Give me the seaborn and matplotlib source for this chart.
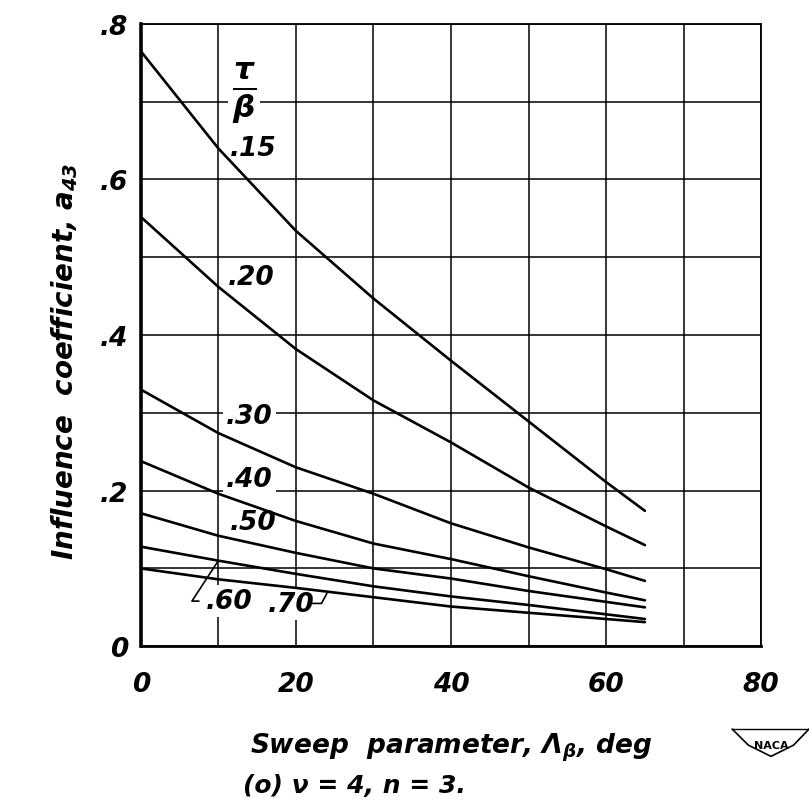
import numpy as np
import pandas as pd
import seaborn as sns
import matplotlib.pyplot as plt
from matplotlib.lines import Line2D

# values (influence coefficient a43 vs sweep parameter)
sweep = [0, 10, 20, 30, 40, 50, 60, 65]
a_015 = [0.765, 0.640, 0.534, 0.447, 0.367, 0.289, 0.211, 0.174]
a_020 = [0.552, 0.462, 0.382, 0.316, 0.262, 0.204, 0.154, 0.130]
a_030 = [0.330, 0.274, 0.230, 0.196, 0.158, 0.127, 0.099, 0.084]
a_040 = [0.238, 0.196, 0.161, 0.132, 0.112, 0.090, 0.069, 0.059]
a_050 = [0.171, 0.142, 0.120, 0.100, 0.087, 0.071, 0.057, 0.050]
a_060 = [0.128, 0.110, 0.093, 0.077, 0.064, 0.053, 0.041, 0.035]
a_070 = [0.100, 0.086, 0.075, 0.063, 0.051, 0.043, 0.035, 0.031]

ratios = ['.15', '.20', '.30', '.40', '.50', '.60', '.70']
curves = [a_015, a_020, a_030, a_040, a_050, a_060, a_070]

# where the curve labels sit
label_x = [11.5, 11.2, 11.0, 11.0, 11.5, 8.4, 16.4]
label_y = [0.640, 0.475, 0.296, 0.215, 0.160, 0.058, 0.054]

xticks = [0, 20, 40, 60, 80]
xticklabels = ['0', '20', '40', '60', '80']
yticks = [0, 0.2, 0.4, 0.6, 0.8]
yticklabels = ['0', '.2', '.4', '.6', '.8']

rows = []
for r, vals in zip(ratios, curves):
    for x, v in zip(sweep, vals):
        rows.append({'sweep': x, 'a43': v, 'ratio': r})
df = pd.DataFrame(rows)

sns.set_style('white')
plt.rcParams['font.family'] = ['DejaVu Sans']
plt.rcParams['font.style'] = 'italic'
plt.rcParams['font.weight'] = 'bold'
plt.rcParams['axes.labelweight'] = 'bold'
plt.rcParams['text.color'] = 'black'
plt.rcParams['axes.labelcolor'] = 'black'
plt.rcParams['xtick.color'] = 'black'
plt.rcParams['ytick.color'] = 'black'
plt.rcParams['mathtext.fontset'] = 'custom'
plt.rcParams['mathtext.it'] = 'DejaVu Sans:italic:bold'
plt.rcParams['mathtext.rm'] = 'DejaVu Sans:italic:bold'
plt.rcParams['mathtext.default'] = 'it'

fig = plt.figure(figsize=(8.09, 8.04), dpi=100)
ax = fig.add_axes([0.174, 0.195, 0.767, 0.774])

sns.lineplot(data=df, x='sweep', y='a43', hue='ratio', palette=['black'] * 7,
             legend=False, linewidth=1.9, ax=ax, zorder=3)

ax.set_xlim(0, 80)
ax.set_ylim(0, 0.8)
ax.set_xticks(xticks)
ax.set_xticklabels(xticklabels, fontsize=19)
ax.set_yticks(yticks)
ax.set_yticklabels(yticklabels, fontsize=19)
ax.set_xticks(np.arange(10, 80, 20), minor=True)
ax.set_yticks(np.arange(0.1, 0.8, 0.2), minor=True)
ax.tick_params(which='both', length=0)
ax.tick_params(axis='x', pad=18)
ax.tick_params(axis='y', pad=9)
ax.set_axisbelow(True)
ax.grid(True, which='both', color='black', linewidth=1.1)

for side in ['top', 'right']:
    ax.spines[side].set_linewidth(1.3)
    ax.spines[side].set_color('black')
ax.spines['left'].set_linewidth(2.6)
ax.spines['bottom'].set_linewidth(2.0)
ax.spines['left'].set_color('black')
ax.spines['bottom'].set_color('black')

ax.set_xlabel(r'Sweep  parameter, $\Lambda_\beta$, deg', fontsize=19, labelpad=24)
ax.set_ylabel(r'Influence  coefficient, $a_{43}$', fontsize=20)
ax.yaxis.set_label_coords(-0.098, 0.46)

# curve labels with white backing to break the grid
for txt, x, y in zip(ratios, label_x, label_y):
    ax.text(x, y, txt, fontsize=19, ha='left', va='center', zorder=1.5,
            bbox=dict(facecolor='white', edgecolor='none', pad=2))

ax.text(13.3, 0.712, r'$\frac{\tau}{\beta}$', fontsize=32, ha='center', va='center',
        zorder=1.5, bbox=dict(facecolor='white', edgecolor='none', pad=3))

# leader lines for .60 and .70
ax.plot([7.5, 6.6, 10], [0.058, 0.058, a_060[1]], color='black', linewidth=1.2, zorder=3)
ax.plot([22.0, 23.3, 24.0], [0.055, 0.055, 0.068], color='black', linewidth=1.2, zorder=3)

fig.text(0.30, 0.022, '(o) ν = 4, n = 3.', fontsize=18, ha='left', va='center')

# NACA badge
fig.text(0.953, 0.072, 'NACA', fontsize=8, ha='center', va='center',
         style='normal', weight='bold')
fig.add_artist(Line2D([0.905, 0.925, 0.953, 0.981, 1.0], [0.092, 0.072, 0.058, 0.072, 0.092],
                      color='black', linewidth=1.2, transform=fig.transFigure))
fig.add_artist(Line2D([0.905, 1.0], [0.092, 0.092], color='black', linewidth=1.0,
                      transform=fig.transFigure))

plt.savefig('out.png', dpi=100)
plt.close()
